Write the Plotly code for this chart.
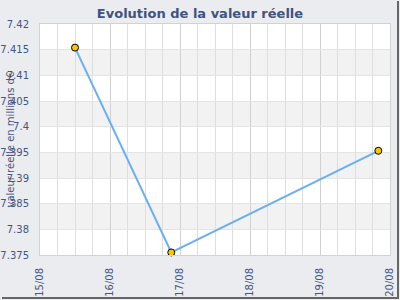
import plotly.graph_objects as go

dates = ["2023-08-15 12:00", "2023-08-16 21:00", "2023-08-19 20:00"]
values = [7.4154, 7.3755, 7.3953]
y_ticks = [7.375, 7.38, 7.385, 7.39, 7.395, 7.40, 7.405, 7.41, 7.415, 7.42]
y_labels = ["7.375", "7.38", "7.385", "7.39", "7.395", "7.4", "7.405", "7.41", "7.415", "7.42"]
x_range = ["2023-08-15", "2023-08-20"]

title = "Evolution de la valeur réelle"
y_title = "valeur réelle en millions d€"

txt = "#44557f"
font = "DejaVu Sans"

fig = go.Figure()
fig.add_trace(go.Scatter(
    x=dates, y=values, mode="lines+markers",
    line=dict(color="#6aaef2", width=2),
    marker=dict(color="#f7c600", size=7, line=dict(color="#000000", width=1)),
    cliponaxis=False,
))

shapes = []
# alternating horizontal bands
for i in range(len(y_ticks) - 1):
    if i % 2 == 1:
        shapes.append(dict(type="rect", xref="paper", yref="y", x0=0, x1=1,
                           y0=y_ticks[i], y1=y_ticks[i + 1],
                           fillcolor="#f2f2f2", line=dict(width=0), layer="below"))
# frame shadow lines
shapes.append(dict(type="line", xref="paper", yref="paper",
                   x0=(398 - 40) / 350, x1=(398 - 40) / 350,
                   y0=(255 - 1) / 231, y1=(255 - 298) / 231,
                   line=dict(color="#666666", width=2)))
shapes.append(dict(type="line", xref="paper", yref="paper",
                   x0=(2 - 40) / 350, x1=(399 - 40) / 350,
                   y0=(255 - 298) / 231, y1=(255 - 298) / 231,
                   line=dict(color="#666666", width=2)))

fig.update_layout(
    width=400, height=300,
    margin=dict(l=40, r=10, t=24, b=45, autoexpand=False),
    paper_bgcolor="#ebecef",
    plot_bgcolor="#ffffff",
    showlegend=False,
    shapes=shapes,
    title=dict(text="<b>" + title + "</b>", x=0.5, xanchor="center",
               y=1 - 13 / 300, yanchor="middle",
               font=dict(family=font, size=13, color="#3e5283")),
    annotations=[dict(text=y_title, xref="paper", yref="paper",
                      x=(10 - 40) / 350, y=0.5, showarrow=False,
                      textangle=-90, xanchor="center", yanchor="middle",
                      font=dict(family=font, size=10, color=txt))],
    xaxis=dict(
        type="date", range=x_range, dtick=86400000, tickformat="%d/%m",
        tickangle=-90, tickfont=dict(family=font, size=10, color=txt),
        showgrid=True, gridcolor="#d0d0d0", gridwidth=1,
        minor=dict(dtick=6 * 3600 * 1000, showgrid=True, gridcolor="#dedede", gridwidth=1),
        showline=True, linecolor="#d2d2d2", mirror=True,
        zeroline=False, ticks="", fixedrange=True,
        automargin=False, ticklabelstandoff=8,
    ),
    yaxis=dict(
        range=[7.375, 7.42], tickvals=y_ticks, ticktext=y_labels,
        tickfont=dict(family=font, size=10, color=txt),
        showgrid=True, gridcolor="#e4e4e4", gridwidth=1,
        showline=True, linecolor="#d2d2d2", mirror=True,
        zeroline=False, ticks="", ticklabelstandoff=8,
        automargin=False,
    ),
)

fig.write_html("out.html")
